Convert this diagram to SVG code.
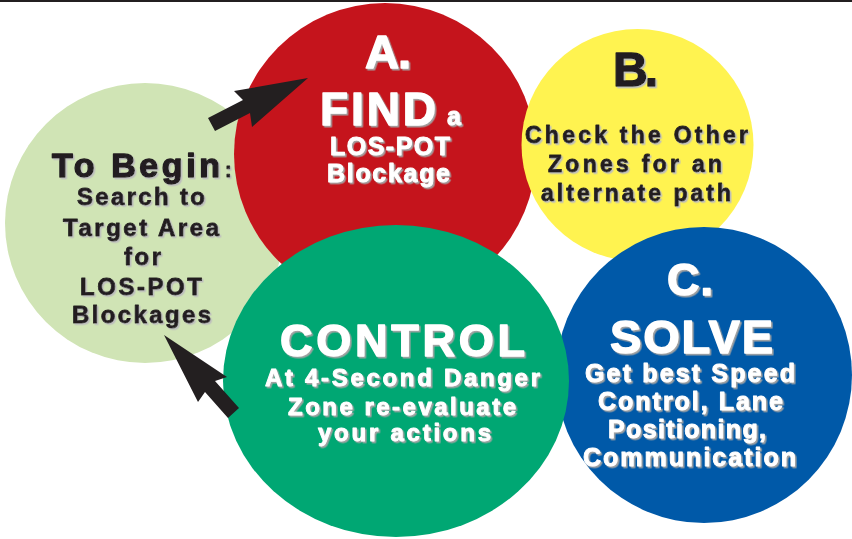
<svg xmlns="http://www.w3.org/2000/svg" width="852" height="539" viewBox="0 0 852 539">
  <defs>
    <!-- embossed look: small hard gray offset under every label -->
    <filter id="shadowLight" x="-5%" y="-10%" width="115%" height="130%">
      <feDropShadow dx="1.6" dy="1.6" stdDeviation="0.25" flood-color="#a3a3a3" flood-opacity="1"/>
    </filter>
    <filter id="shadowDark" x="-5%" y="-10%" width="115%" height="130%">
      <feDropShadow dx="1.5" dy="1.5" stdDeviation="0.25" flood-color="#bdbdbd" flood-opacity="1"/>
    </filter>
  </defs>
  <style>
    text { font-family: "Liberation Sans", Arial, sans-serif; font-weight: bold; stroke-linejoin: round; }
    .white { fill: #ffffff; stroke: #ffffff; stroke-width: 0.9; filter: url(#shadowLight); }
    .dark { fill: #231f20; stroke: #231f20; stroke-width: 0.8; filter: url(#shadowDark); }
    .big { stroke-width: 1.4; }
    .arrow { fill: #231f20; }
  </style>

  <rect x="0" y="0" width="852" height="539" fill="#ffffff"/>
  <rect x="0" y="0" width="852" height="2" fill="#231f20"/>

  <!-- starting zone -->
  <g id="begin">
    <circle cx="145" cy="223" r="140" fill="#d0e4b5"/>
  </g>

  <!-- step A -->
  <g id="find">
    <circle cx="385" cy="154" r="151" fill="#c5141c"/>
  </g>

  <!-- step B -->
  <g id="check">
    <circle cx="637.5" cy="145" r="116" fill="#fff350"/>
  </g>

  <!-- step C -->
  <g id="solve">
    <circle cx="704" cy="375" r="148" fill="#0059a8"/>
  </g>

  <!-- control zone -->
  <g id="control">
    <ellipse cx="396" cy="381" rx="173" ry="156" fill="#00a773"/>
  </g>

  <!-- arrows between zones -->
  <g id="connectors">
    <polygon class="arrow" points="208,118 243,100 234,91 308,78 252,127 250,113 215,131"/>
    <polygon class="arrow" points="164,335 227,377 215,381 239,408 228,418 205,392 198,402"/>
  </g>

  <!-- labels -->
  <g id="begin-text">
    <text class="dark big" x="52" y="177" font-size="34" textLength="168" lengthAdjust="spacing">To Begin</text>
    <text class="dark" x="225" y="177" font-size="20">:</text>
    <text class="dark" x="77" y="205" font-size="24" textLength="128" lengthAdjust="spacing">Search to</text>
    <text class="dark" x="63" y="236" font-size="24" textLength="156" lengthAdjust="spacing">Target Area</text>
    <text class="dark" x="124" y="265" font-size="24" textLength="37" lengthAdjust="spacing">for</text>
    <text class="dark" x="80" y="295" font-size="24" textLength="122" lengthAdjust="spacing">LOS-POT</text>
    <text class="dark" x="72" y="323" font-size="24" textLength="139" lengthAdjust="spacing">Blockages</text>
  </g>

  <g id="find-text">
    <text class="white big" x="365" y="68" font-size="47" textLength="46" lengthAdjust="spacing">A.</text>
    <text class="white big" x="320" y="125" font-size="46" textLength="116" lengthAdjust="spacing">FIND</text>
    <text class="white" x="447" y="125" font-size="25">a</text>
    <text class="white" x="330" y="155" font-size="25" textLength="120" lengthAdjust="spacing">LOS-POT</text>
    <text class="white" x="327" y="182" font-size="25" textLength="123" lengthAdjust="spacing">Blockage</text>
  </g>

  <g id="check-text">
    <text class="dark big" x="613" y="86" font-size="48" textLength="45" lengthAdjust="spacing">B.</text>
    <text class="dark" x="525" y="143" font-size="23" textLength="223" lengthAdjust="spacing">Check the Other</text>
    <text class="dark" x="548" y="172" font-size="23" textLength="174" lengthAdjust="spacing">Zones for an</text>
    <text class="dark" x="541" y="201" font-size="23" textLength="190" lengthAdjust="spacing">alternate path</text>
  </g>

  <g id="solve-text">
    <text class="white big" x="667" y="295" font-size="45" textLength="46" lengthAdjust="spacing">C.</text>
    <text class="white big" x="610" y="353" font-size="47" textLength="163" lengthAdjust="spacing">SOLVE</text>
    <text class="white" x="585" y="382" font-size="25" textLength="210" lengthAdjust="spacing">Get best Speed</text>
    <text class="white" x="598" y="410" font-size="25" textLength="185" lengthAdjust="spacing">Control, Lane</text>
    <text class="white" x="608" y="438" font-size="25" textLength="158" lengthAdjust="spacing">Positioning,</text>
    <text class="white" x="583" y="466" font-size="25" textLength="213" lengthAdjust="spacing">Communication</text>
  </g>

  <g id="control-text">
    <text class="white big" x="280" y="356" font-size="45" textLength="245" lengthAdjust="spacing">CONTROL</text>
    <text class="white" x="265" y="386" font-size="24" textLength="275" lengthAdjust="spacing">At 4-Second Danger</text>
    <text class="white" x="288" y="415" font-size="24" textLength="228" lengthAdjust="spacing">Zone re-evaluate</text>
    <text class="white" x="318" y="441" font-size="24" textLength="173" lengthAdjust="spacing">your actions</text>
  </g>
</svg>
